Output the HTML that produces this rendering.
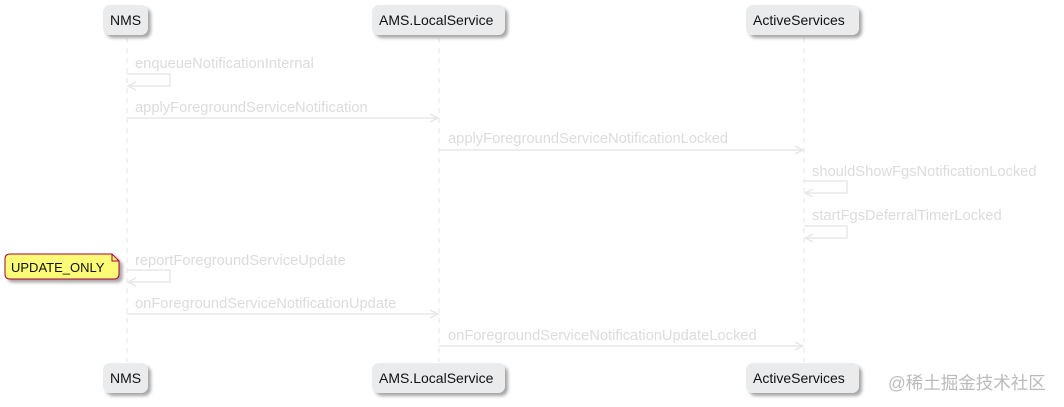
<!DOCTYPE html>
<html><head><meta charset="utf-8"><style>body{margin:0;background:#fff}svg{display:block}</style></head>
<body>
<svg width="1064" height="407" xmlns="http://www.w3.org/2000/svg" font-family="Liberation Sans, Arial, sans-serif">
<defs>
<filter id="sh" x="-20%" y="-20%" width="150%" height="160%"><feDropShadow dx="3" dy="3" stdDeviation="1.5" flood-color="#000" flood-opacity="0.35"/></filter>
</defs>
<g stroke="#e6e6e6" stroke-width="1" stroke-dasharray="5,5">
<line x1="127" y1="38" x2="127" y2="362"/>
<line x1="439" y1="38" x2="439" y2="362"/>
<line x1="804" y1="38" x2="804" y2="362"/>
</g>
<g fill="#e9ebed" filter="url(#sh)">
<rect x="103" y="5" width="45" height="30" rx="7"/>
<rect x="372" y="5" width="133" height="30" rx="7"/>
<rect x="746" y="5" width="113" height="30" rx="7"/>
<rect x="103" y="363" width="45" height="30" rx="7"/>
<rect x="372" y="363" width="133" height="30" rx="7"/>
<rect x="746" y="363" width="113" height="30" rx="7"/>
</g>
<g font-size="14" fill="#111">
<text x="110" y="25">NMS</text><text x="379" y="25">AMS.LocalService</text><text x="753" y="25">ActiveServices</text>
<text x="110" y="383">NMS</text><text x="379" y="383">AMS.LocalService</text><text x="753" y="383">ActiveServices</text>
</g>
<g stroke="#e8e8e8" stroke-width="1.5" fill="none">
<polyline points="127,74 170,74 170,86 128,86"/><polyline points="136,82 128,86 136,90"/>
<line x1="127" y1="118" x2="438" y2="118"/><polyline points="430,114 438,118 430,122"/>
<line x1="439" y1="150" x2="803" y2="150"/><polyline points="795,146 803,150 795,154"/>
<polyline points="804,181 847,181 847,193 805,193"/><polyline points="813,189 805,193 813,197"/>
<polyline points="804,226 847,226 847,238 805,238"/><polyline points="813,234 805,238 813,242"/>
<polyline points="127,270 170,270 170,282 128,282"/><polyline points="136,278 128,282 136,286"/>
<line x1="127" y1="314" x2="438" y2="314"/><polyline points="430,310 438,314 430,318"/>
<line x1="439" y1="346" x2="803" y2="346"/><polyline points="795,342 803,346 795,350"/>
</g>
<g font-size="14.7" fill="#dcdcdc">
<text x="135" y="68">enqueueNotificationInternal</text>
<text x="135" y="112">applyForegroundServiceNotification</text>
<text x="448" y="143">applyForegroundServiceNotificationLocked</text>
<text x="812" y="176">shouldShowFgsNotificationLocked</text>
<text x="812" y="220">startFgsDeferralTimerLocked</text>
<text x="135" y="265">reportForegroundServiceUpdate</text>
<text x="135" y="308">onForegroundServiceNotificationUpdate</text>
<text x="448" y="340">onForegroundServiceNotificationUpdateLocked</text>
</g>
<path d="M10,254 H112 L119,261 V274 Q119,279 114,279 H10 Q5,279 5,274 V259 Q5,254 10,254 Z" fill="#fbfb77" stroke="#a80036" stroke-width="1" filter="url(#sh)"/>
<path d="M112,254 V261 H119" fill="none" stroke="#a80036" stroke-width="1"/>
<text x="11" y="272" font-size="13" fill="#111">UPDATE_ONLY</text>
<text x="888" y="389" font-size="17.5" fill="#bbb" font-family="Liberation Sans, Noto Sans CJK SC, sans-serif">@稀土掘金技术社区</text>
</svg>
</body></html>
